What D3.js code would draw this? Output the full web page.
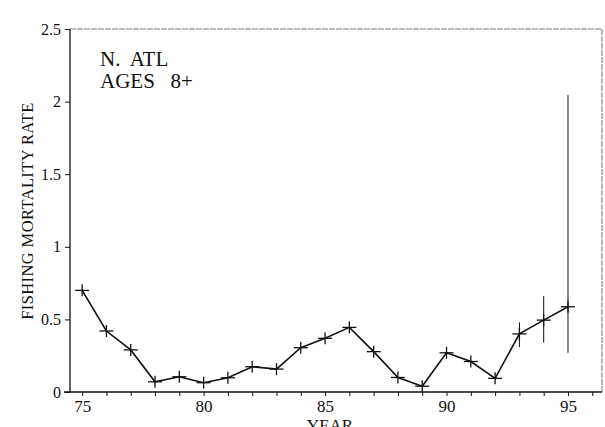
<!DOCTYPE html>
<html>
<head>
<meta charset="utf-8">
<script src="https://cdn.jsdelivr.net/npm/d3@7"></script>
</head>
<body style="margin:0;background:#fff">
<div id="chart"></div>
<script>
const years = [75, 76, 77, 78, 79, 80, 81, 82, 83, 84, 85, 86, 87, 88, 89, 90, 91, 92, 93, 94, 95];
const fValues = [0.70, 0.42, 0.29, 0.07, 0.105, 0.064, 0.098, 0.174, 0.158, 0.305, 0.37, 0.445,
                 0.278, 0.10, 0.04, 0.27, 0.21, 0.094, 0.40, 0.495, 0.587];
// error bars only for the last three years
const errYears = [93, 94, 95];
const errLow = [0.31, 0.34, 0.27];
const errHigh = [0.48, 0.66, 2.045];
const xTickLabels = [75, 80, 85, 90, 95];
const yTickLabels = [0, 0.5, 1, 1.5, 2, 2.5];

(function () {
  const width = 605, height = 427;
  const margin = { left: 70, top: 29, right: 3, bottom: 35 };
  const serif = "Liberation Serif";
  const svg = d3.select("#chart").append("svg")
    .attr("width", width).attr("height", height)
    .attr("font-family", serif);

  const x = d3.scaleLinear().domain([74.5, 96.4]).range([margin.left, width - margin.right]);
  const y = d3.scaleLinear().domain([0, 2.5]).range([height - margin.bottom, margin.top]);

  const bottom = y(0), top = y(2.5);

  // frame: top and right in grey
  svg.append("line").attr("x1", x(74.5)).attr("x2", x(96.4)).attr("y1", top).attr("y2", top)
    .attr("stroke", "#777").attr("stroke-width", 1).attr("stroke-dasharray", "6,1");
  svg.append("line").attr("x1", x(96.4)).attr("x2", x(96.4)).attr("y1", top).attr("y2", bottom)
    .attr("stroke", "#777").attr("stroke-width", 1).attr("stroke-dasharray", "6,1");

  // x axis
  const xAxis = d3.axisBottom(x)
    .tickValues(d3.range(75, 97))
    .tickSize(4)
    .tickFormat(d => xTickLabels.includes(d) ? d : "");
  const gx = svg.append("g").attr("transform", `translate(0,${bottom})`).call(xAxis)
    .attr("font-family", serif);
  gx.select(".domain").attr("d", `M${x(74.5) - 6},0H${x(96.4)}`).attr("stroke", "#111").attr("stroke-width", 1.3);
  gx.selectAll(".tick line").attr("stroke", "#111");
  gx.selectAll(".tick text").attr("font-family", serif).attr("font-size", 17)
    .attr("fill", "#111").attr("dy", "1em").attr("y", 3);

  // y axis
  const yAxis = d3.axisLeft(y).tickValues(yTickLabels).tickSize(5).tickFormat(d => d);
  const gy = svg.append("g").attr("transform", `translate(${x(74.5)},0)`).call(yAxis)
    .attr("font-family", serif);
  gy.select(".domain").attr("d", `M0,${bottom}V${top}`).attr("stroke", "#111").attr("stroke-width", 1.3);
  gy.selectAll(".tick line").attr("stroke", "#111");
  gy.selectAll(".tick text").attr("font-family", serif).attr("font-size", 16)
    .attr("fill", "#111").attr("x", -9);

  // axis titles
  svg.append("text")
    .attr("transform", `translate(33,211) rotate(-90)`)
    .attr("text-anchor", "middle")
    .attr("font-family", serif).attr("font-size", 16.5).attr("fill", "#111")
    .attr("letter-spacing", 0.4)
    .text("FISHING MORTALITY RATE");
  svg.append("text")
    .attr("x", 330).attr("y", 431)
    .attr("text-anchor", "middle")
    .attr("font-family", serif).attr("font-size", 17).attr("fill", "#111")
    .text("YEAR");

  // annotation
  svg.append("text").attr("x", 100).attr("y", 66)
    .attr("font-family", serif).attr("font-size", 21).attr("fill", "#111")
    .attr("xml:space", "preserve").style("white-space", "pre").text("N.  ATL");
  svg.append("text").attr("x", 100).attr("y", 88)
    .attr("font-family", serif).attr("font-size", 21).attr("fill", "#111")
    .attr("xml:space", "preserve").style("white-space", "pre").text("AGES   8+");

  const data = years.map((yr, i) => ({ year: yr, f: fValues[i] }));

  // error bars
  svg.selectAll(".err").data(errYears).enter().append("line")
    .attr("x1", d => x(d)).attr("x2", d => x(d))
    .attr("y1", (d, i) => y(errLow[i])).attr("y2", (d, i) => y(errHigh[i]))
    .attr("stroke", "#111").attr("stroke-width", 1);

  const line = d3.line().x(d => x(d.year)).y(d => y(d.f));
  svg.append("path").datum(data)
    .attr("fill", "none").attr("stroke", "#111").attr("stroke-width", 1.6)
    .attr("d", line);

  // plus markers
  const mk = svg.selectAll(".mk").data(data).enter().append("g")
    .attr("transform", d => `translate(${x(d.year)},${y(d.f)})`);
  mk.append("line").attr("x1", -7).attr("x2", 7).attr("stroke", "#111").attr("stroke-width", 1.3);
  mk.append("line").attr("y1", -6).attr("y2", 6).attr("stroke", "#111").attr("stroke-width", 1.3);
})();
</script>
</body>
</html>
